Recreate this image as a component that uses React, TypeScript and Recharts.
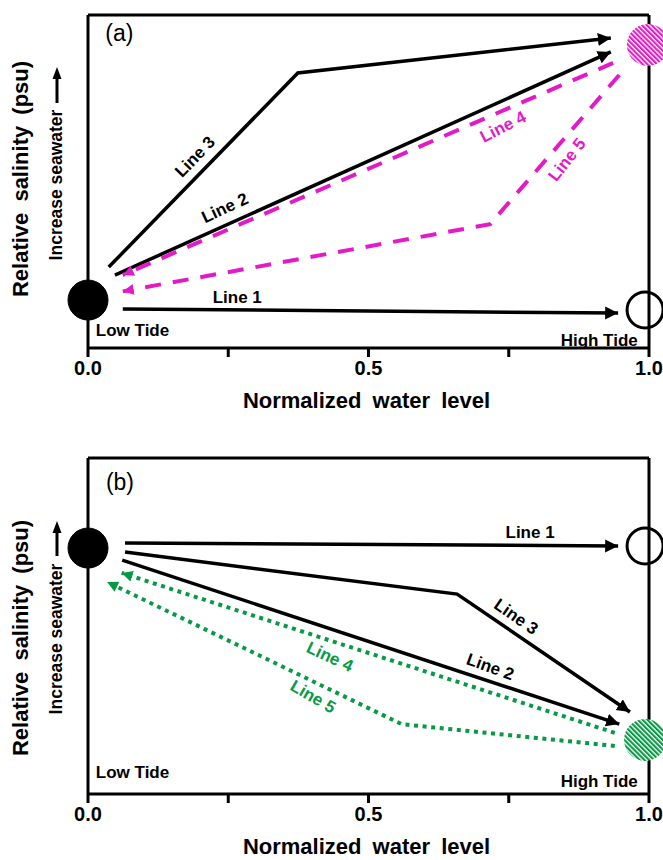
import React from 'react';
import { ComposedChart, Line, XAxis, YAxis, ReferenceLine, ReferenceDot, Label } from 'recharts';

type Pt = { x: number; y: number };
type Lbl = { text: string; x: number; y: number };

// ---------- shared axis values ----------
const X_TICKS = [0, 0.25, 0.5, 0.75, 1];
const X_TICK_TEXT = ['0.0', '', '0.5', '', '1.0'];
const Y_TICKS = [0, 1];
const X_TITLE = 'Normalized water level';
const Y_TITLE = 'Relative salinity (psu)';
const Y_SUBTITLE = 'Increase seawater';

// ---------- panel (a) ----------
const A_LINE1: Pt[] = [{ x: 0.062, y: 0.117 }, { x: 0.945, y: 0.105 }];
const A_LINE2: Pt[] = [{ x: 0.048, y: 0.219 }, { x: 0.932, y: 0.889 }];
const A_LINE3: Pt[] = [{ x: 0.037, y: 0.243 }, { x: 0.374, y: 0.826 }, { x: 0.932, y: 0.931 }];
const A_LINE4: Pt[] = [{ x: 0.936, y: 0.856 }, { x: 0.062, y: 0.219 }];
const A_LINE5: Pt[] = [{ x: 0.947, y: 0.82 }, { x: 0.717, y: 0.372 }, { x: 0.062, y: 0.17 }];
const A_LOW: Pt = { x: 0.0, y: 0.144 };
const A_HIGH: Pt = { x: 0.993, y: 0.114 };
const A_TARGET: Pt = { x: 0.998, y: 0.91 };
const A_LABELS: Lbl[] = [
  { text: '(a)', x: 0.056, y: 0.946 },
  { text: 'Line 1', x: 0.266, y: 0.153 },
  { text: 'Line 2', x: 0.244, y: 0.42 },
  { text: 'Line 3', x: 0.191, y: 0.574 },
  { text: 'Line 4', x: 0.74, y: 0.664 },
  { text: 'Line 5', x: 0.854, y: 0.565 },
  { text: 'Low Tide', x: 0.014, y: 0.054 },
  { text: 'High Tide', x: 0.98, y: 0.024 },
];

// ---------- panel (b) ----------
const B_LINE1: Pt[] = [{ x: 0.066, y: 0.747 }, { x: 0.945, y: 0.738 }];
const B_LINE2: Pt[] = [{ x: 0.061, y: 0.696 }, { x: 0.947, y: 0.208 }];
const B_LINE3: Pt[] = [{ x: 0.066, y: 0.72 }, { x: 0.658, y: 0.595 }, { x: 0.966, y: 0.244 }];
const B_LINE4: Pt[] = [{ x: 0.939, y: 0.182 }, { x: 0.06, y: 0.658 }];
const B_LINE5: Pt[] = [{ x: 0.939, y: 0.143 }, { x: 0.559, y: 0.208 }, { x: 0.034, y: 0.631 }];
const B_LOW: Pt = { x: 0.0, y: 0.732 };
const B_HIGH: Pt = { x: 0.993, y: 0.738 };
const B_TARGET: Pt = { x: 0.993, y: 0.161 };
const B_LABELS: Lbl[] = [
  { text: '(b)', x: 0.057, y: 0.929 },
  { text: 'Line 1', x: 0.788, y: 0.777 },
  { text: 'Line 2', x: 0.717, y: 0.378 },
  { text: 'Line 3', x: 0.763, y: 0.527 },
  { text: 'Line 4', x: 0.431, y: 0.408 },
  { text: 'Line 5', x: 0.401, y: 0.289 },
  { text: 'Low Tide', x: 0.014, y: 0.065 },
  { text: 'High Tide', x: 0.98, y: 0.036 },
];

// ---------- styles ----------
const FONT = '"Liberation Sans", Arial, Helvetica, sans-serif';
const PINK = '#E21BC6';
const GREEN = '#079A45';

const A_ANGLES: Record<string, number> = { 'Line 2': -25, 'Line 3': -46, 'Line 4': -27, 'Line 5': -52 };
const B_ANGLES: Record<string, number> = { 'Line 2': 20, 'Line 3': 35, 'Line 4': 25, 'Line 5': 30 };

interface PanelProps {
  id: string;
  height: number;
  marginTop: number;
  marginBottom: number;
  black: Pt[][];
  accent: Pt[][];
  accentColor: string;
  accentDash: string;
  low: Pt;
  high: Pt;
  target: Pt;
  labels: Lbl[];
  angles: Record<string, number>;
  titleDy: number;
  textDy: number;
  arrowTip: number;
  arrowTail: number;
}

const renderTick = (p: any) => {
  const idx = X_TICKS.indexOf(Number(p.payload.value));
  const t = idx >= 0 ? X_TICK_TEXT[idx] : '';
  if (!t) return <g />;
  return (
    <text x={p.x} y={p.y + 9} textAnchor="middle" dominantBaseline="central" fontFamily={FONT} fontWeight="bold" fontSize={20} fill="#000">
      {t}
    </text>
  );
};

function Panel(props: PanelProps) {
  const { id, accentColor } = props;
  const labelShape = (l: Lbl) => (p: any) => {
    const cx = p.cx;
    const cy = p.cy;
    const isPanel = l.text.startsWith('(');
    const isAccent = l.text === 'Line 4' || l.text === 'Line 5';
    const anchor = l.text === 'Low Tide' ? 'start' : l.text === 'High Tide' ? 'end' : 'middle';
    const angle = props.angles[l.text] || 0;
    return (
      <text
        x={cx}
        y={cy}
        textAnchor={anchor}
        dominantBaseline="central"
        transform={angle ? `rotate(${angle}, ${cx}, ${cy})` : undefined}
        fontFamily={FONT}
        fontWeight={isPanel ? 'normal' : 'bold'}
        fontSize={isPanel ? 23 : 17}
        fill={isAccent ? accentColor : '#000'}
      >
        {l.text}
      </text>
    );
  };

  const yTitle = (p: any) => {
    const vb = p.viewBox || {};
    const right = vb.x + vb.width;
    const top = vb.y;
    const tx = right - 60;
    const ty = top + props.titleDy;
    const sx = right - 26;
    const sy = top + props.textDy;
    const ax = right - 31;
    const tip = top + props.arrowTip;
    const tail = top + props.arrowTail;
    return (
      <g>
        <text x={tx} y={ty} transform={`rotate(-90, ${tx}, ${ty})`} textAnchor="middle" fontFamily={FONT} fontWeight="bold" fontSize={22} wordSpacing={5} fill="#000">
          {Y_TITLE}
        </text>
        <text x={sx} y={sy} transform={`rotate(-90, ${sx}, ${sy})`} textAnchor="middle" fontFamily={FONT} fontWeight="bold" fontSize={17.5} fill="#000">
          {Y_SUBTITLE}
        </text>
        <line x1={ax} y1={tail} x2={ax} y2={tip + 8} stroke="#000" strokeWidth={3} />
        <polygon points={`${ax},${tip} ${ax - 4.5},${tip + 12} ${ax + 4.5},${tip + 12}`} fill="#000" />
      </g>
    );
  };

  const xTitle = (p: any) => {
    const vb = p.viewBox || {};
    const x = vb.x + vb.width / 2 - 2;
    const y = vb.y + 52;
    return (
      <text x={x} y={y} textAnchor="middle" dominantBaseline="central" fontFamily={FONT} fontWeight="bold" fontSize={22} wordSpacing={5} fill="#000">
        {X_TITLE}
      </text>
    );
  };

  return (
    <ComposedChart
      width={663}
      height={props.height}
      margin={{ top: props.marginTop, right: 14, left: 78, bottom: props.marginBottom }}
    >
      <defs>
        <marker id={`${id}-arrB`} markerUnits="userSpaceOnUse" markerWidth={14} markerHeight={14} refX={13} refY={6.5} orient="auto">
          <path d="M0,0 L13,6.5 L0,13 z" fill="#000" />
        </marker>
        <marker id={`${id}-arrC`} markerUnits="userSpaceOnUse" markerWidth={13} markerHeight={13} refX={11} refY={5.5} orient="auto">
          <path d="M0,0 L11,5.5 L0,11 z" fill={accentColor} />
        </marker>
        <pattern id={`${id}-hatch`} patternUnits="userSpaceOnUse" width={3.4} height={3.4} patternTransform="rotate(-45)">
          <rect x={0} y={0} width={3.4} height={3.4} fill="#fff" />
          <rect x={0} y={0} width={2.1} height={3.4} fill={accentColor} />
        </pattern>
      </defs>
      <XAxis
        type="number"
        dataKey="x"
        domain={[0, 1]}
        ticks={X_TICKS}
        interval={0}
        height={40}
        tickSize={9}
        axisLine={{ stroke: '#000', strokeWidth: 3 }}
        tickLine={{ stroke: '#000', strokeWidth: 3 }}
        tick={renderTick}
      >
        <Label content={xTitle} />
      </XAxis>
      <YAxis
        type="number"
        dataKey="y"
        domain={[0, 1]}
        ticks={Y_TICKS}
        width={10}
        tickSize={8}
        tick={false}
        axisLine={{ stroke: '#000', strokeWidth: 3 }}
        tickLine={{ stroke: '#000', strokeWidth: 3 }}
      >
        <Label content={yTitle} />
      </YAxis>
      <ReferenceLine y={1} stroke="#000" strokeWidth={3} ifOverflow="visible" />
      <ReferenceLine x={1} stroke="#000" strokeWidth={3} ifOverflow="visible" />

      {props.black.map((d, i) => (
        <Line
          key={`b${i}`}
          data={d}
          dataKey="y"
          type="linear"
          stroke="#000"
          strokeWidth={3.5}
          dot={false}
          activeDot={false}
          isAnimationActive={false}
          markerEnd={`url(#${id}-arrB)`}
        />
      ))}
      {props.accent.map((d, i) => (
        <Line
          key={`a${i}`}
          data={d}
          dataKey="y"
          type="linear"
          stroke={accentColor}
          strokeWidth={4}
          strokeDasharray={props.accentDash}
          dot={false}
          activeDot={false}
          isAnimationActive={false}
          markerEnd={`url(#${id}-arrC)`}
        />
      ))}

      <ReferenceDot x={props.low.x} y={props.low.y} r={20} fill="#000" stroke="#000" strokeWidth={1} ifOverflow="visible" />
      <ReferenceDot x={props.high.x} y={props.high.y} r={18} fill="none" stroke="#000" strokeWidth={3} ifOverflow="visible" />
      <ReferenceDot x={props.target.x} y={props.target.y} r={21} fill={`url(#${id}-hatch)`} stroke="none" ifOverflow="visible" />

      {props.labels.map((l) => (
        <ReferenceDot key={l.text} x={l.x} y={l.y} r={0} ifOverflow="visible" shape={labelShape(l)} />
      ))}
    </ComposedChart>
  );
}

export default function App() {
  return (
    <div style={{ position: 'absolute', left: 0, top: 0, width: 663, height: 860, background: '#fff' }}>
      <div style={{ position: 'absolute', left: 0, top: 0 }}>
        <Panel
          id="pa"
          height={420}
          marginTop={15}
          marginBottom={32}
          black={[A_LINE1, A_LINE2, A_LINE3]}
          accent={[A_LINE4, A_LINE5]}
          accentColor={PINK}
          accentDash="16 12"
          low={A_LOW}
          high={A_HIGH}
          target={A_TARGET}
          labels={A_LABELS}
          angles={A_ANGLES}
          titleDy={164}
          textDy={170}
          arrowTip={52}
          arrowTail={88}
        />
      </div>
      <div style={{ position: 'absolute', left: 0, top: 420 }}>
        <Panel
          id="pb"
          height={440}
          marginTop={38}
          marginBottom={26}
          black={[B_LINE1, B_LINE2, B_LINE3]}
          accent={[B_LINE4, B_LINE5]}
          accentColor={GREEN}
          accentDash="4 4.6"
          low={B_LOW}
          high={B_HIGH}
          target={B_TARGET}
          labels={B_LABELS}
          angles={B_ANGLES}
          titleDy={180}
          textDy={181}
          arrowTip={63}
          arrowTail={98}
        />
      </div>
    </div>
  );
}
